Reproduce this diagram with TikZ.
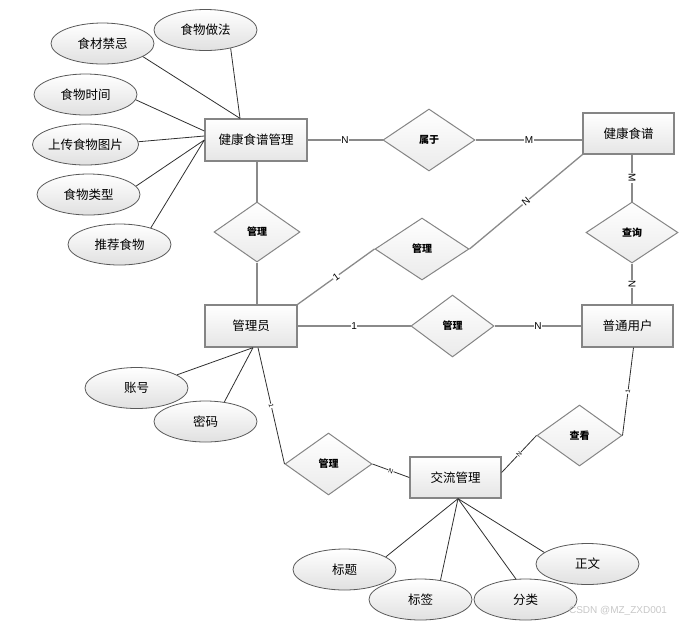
\documentclass[tikz,border=0pt]{standalone}
\usepackage{fontspec}
\setmainfont{Noto Sans CJK SC}
\newfontfamily\labfont{Liberation Sans}
\usetikzlibrary{shapes.geometric,calc}
\definecolor{edgegray}{HTML}{858585}
\definecolor{linegray}{HTML}{8A8A8A}
\definecolor{attrline}{HTML}{303030}
\tikzset{
  entity/.style={draw=edgegray,line width=1.3pt,top color=white,bottom color=black!10,
    minimum width=91pt,minimum height=41pt,inner sep=0pt,font=\fontsize{12.5}{14}\selectfont},
  attr/.style={ellipse,draw=black!65,line width=0.8pt,top color=white,bottom color=black!12,
    minimum width=103pt,minimum height=41pt,inner sep=0pt,font=\fontsize{12.5}{14}\selectfont},
  rel/.style={diamond,draw=edgegray,line width=1pt,top color=white,bottom color=black!8,
    inner sep=0pt,font=\bfseries\fontsize{10}{12}\selectfont},
  relline/.style={draw=linegray,line width=1.3pt},
  attrl/.style={draw=attrline,line width=0.8pt},
  card/.style={midway,sloped,fill=white,inner sep=0.6pt,font=\labfont\fontsize{10}{11}\selectfont},
  cardsm/.style={midway,sloped,fill=white,inner sep=0.4pt,font=\labfont\fontsize{6.5}{7}\selectfont},
}
\begin{document}
\begin{tikzpicture}[x=1pt,y=-1pt]
\useasboundingbox (0,0) rectangle (686,625);
% entities
\node[entity,minimum width=102pt,minimum height=42pt] (hm) at (256,140) {健康食谱管理};
\node[entity] (hr) at (628.5,133.5) {健康食谱};
\node[entity,minimum width=92pt,minimum height=42pt] (adm) at (251,326) {管理员};
\node[entity,minimum height=42pt] (usr) at (627.5,326) {普通用户};
\node[entity] (jl) at (455.5,477.5) {交流管理};
% relations
\node[rel,minimum width=92pt,minimum height=62pt] (d1) at (429,140) {属于};
\node[rel,minimum width=86pt,minimum height=60pt] (d2) at (257,232) {管理};
\node[rel,minimum width=94pt,minimum height=62pt] (d3) at (422,249) {管理};
\node[rel,minimum width=92pt,minimum height=61pt] (d4) at (632,232.5) {查询};
\node[rel,minimum width=83pt,minimum height=62pt] (d5) at (452.5,326) {管理};
\node[rel,minimum width=87pt,minimum height=62pt] (d6) at (328.5,464) {管理};
\node[rel,minimum width=85pt,minimum height=61pt] (d7) at (579.5,435.5) {查看};
% attributes
\node[attr] (e1) at (205.5,30) {食物做法};
\node[attr] (e2) at (102.5,43.5) {食材禁忌};
\node[attr] (e3) at (85.5,94.5) {食物时间};
\node[attr] (e4) at (85.5,144.5) {上传食物图片};
\node[attr] (e5) at (88.5,194.5) {食物类型};
\node[attr] (e6) at (119.5,244.5) {推荐食物};
\node[attr] (e7) at (136.5,388) {账号};
\node[attr] (e8) at (205.5,421.5) {密码};
\node[attr] (e9) at (344.5,569.5) {标题};
\node[attr] (e10) at (420.5,599.5) {标签};
\node[attr] (e11) at (525.5,599.5) {分类};
\node[attr] (e12) at (587.5,564) {正文};
% attribute lines
\coordinate (hmtop) at ([xshift=-16pt]hm.north);
\draw[attrl] (e1.-36) -- (hmtop);
\draw[attrl] (e2.-18) -- (hmtop);
\draw[attrl] (e3.-6) -- ([yshift=9pt]hm.west);
\draw[attrl] (e4.3) -- ([yshift=4pt]hm.west);
\draw[attrl] (e5.10) -- (hm.west);
\draw[attrl] (e6.28) -- (hm.west);
\coordinate (admbot) at ([xshift=2pt]adm.south);
\draw[attrl] (e7.18) -- (admbot);
\draw[attrl] (e8.46) -- (admbot);
\coordinate (jlbot) at ([xshift=2.5pt]jl.south);
\draw[attrl] (e9.17) -- (jlbot);
\draw[attrl] (e10.44) -- (jlbot);
\draw[attrl] (e11.115) -- (jlbot);
\draw[attrl] (e12.165) -- (jlbot);
% relation lines
\draw[relline] (hm.east) -- (d1.west) node[card]{N};
\draw[relline] (d1.east) -- (d1.east -| hr.west) node[card]{M};
\draw[relline] (d4.north |- hr.south) -- (d4.north) node[card]{M};
\draw[relline] (d4.south) -- (d4.south |- usr.north) node[card]{N};
\draw[relline] (hm.south -| d2.north) -- (d2.north);
\draw[relline] (d2.south) -- (d2.south |- adm.north);
\draw[relline] (adm.north east) -- (d3.west) node[card]{1};
\draw[relline] (d3.east) -- (hr.south west) node[card]{N};
\draw[relline] (adm.east) -- (d5.west) node[card]{1};
\draw[relline] (d5.east) -- (usr.west) node[card]{N};
\draw[attrl] ([xshift=7pt]adm.south) -- (d6.west) node[cardsm]{1};
\draw[attrl] (d6.east) -- (jl.west) node[cardsm]{N};
\draw[attrl] ([yshift=5pt]jl.east) -- (d7.west) node[cardsm]{N};
\draw[attrl] (d7.east) -- ([xshift=6pt]usr.south) node[cardsm]{1};
% watermark
\node[text=black!22,font=\labfont\fontsize{10}{11}\selectfont,inner sep=0pt] (wm) at (618,611) {CSDN @MZ\_ZXD001};
\end{tikzpicture}
\end{document}
